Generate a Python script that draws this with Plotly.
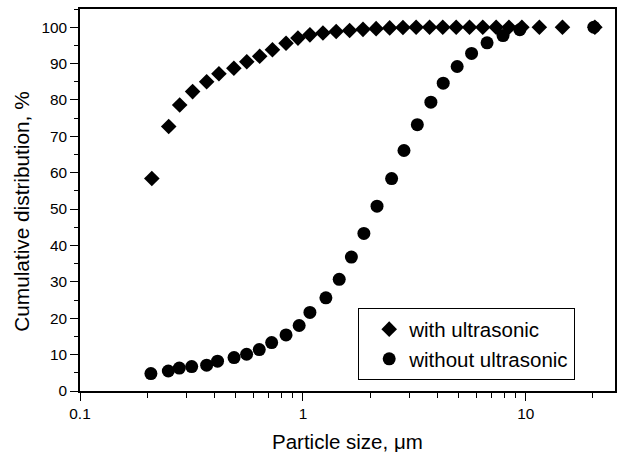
import plotly.graph_objects as go

# with ultrasonic (diamonds)
x_with = [0.21, 0.25, 0.28, 0.32, 0.37, 0.42, 0.49, 0.56, 0.64, 0.73, 0.84, 0.95,
          1.075, 1.23, 1.41, 1.62, 1.86, 2.13, 2.45, 2.81, 3.22, 3.70, 4.24, 4.87,
          5.59, 6.41, 7.36, 8.4, 9.6, 11.5, 14.6, 20.4]
y_with = [58.4, 72.7, 78.6, 82.3, 85.0, 87.2, 88.7, 90.5, 92.0, 93.8, 95.6, 97.0,
          97.9, 98.4, 98.8, 99.1, 99.4, 99.6, 99.8, 99.9, 100, 100, 100, 100,
          100, 100, 100, 100, 100, 100, 100, 100]

# without ultrasonic (circles)
x_without = [0.208, 0.249, 0.279, 0.317, 0.37, 0.414, 0.491, 0.559, 0.637, 0.724, 0.84,
             0.962, 1.075, 1.268, 1.455, 1.65, 1.877, 2.15, 2.5, 2.84, 3.26, 3.75, 4.26,
             4.92, 5.71, 6.70, 7.9, 9.4, 20.2]
y_without = [4.8, 5.5, 6.3, 6.7, 7.1, 8.2, 9.2, 10.1, 11.4, 13.3, 15.4, 18.0, 21.6,
             25.6, 30.7, 36.8, 43.3, 50.8, 58.4, 66.1, 73.2, 79.4, 84.6, 89.2, 92.8,
             95.7, 97.7, 99.3, 100]

x_major = [0.1, 1, 10]
x_major_labels = ["0.1", "1", "10"]
x_minor = [0.2, 0.3, 0.4, 0.5, 0.6, 0.7, 0.8, 0.9, 2, 3, 4, 5, 6, 7, 8, 9, 20]

FONT = "Liberation Sans, Arial, sans-serif"

fig = go.Figure()
fig.add_trace(go.Scatter(x=x_with, y=y_with, mode="markers", name="with ultrasonic",
                         marker=dict(symbol="diamond", size=12, color="black")))
fig.add_trace(go.Scatter(x=x_without, y=y_without, mode="markers", name="without ultrasonic",
                         marker=dict(symbol="circle", size=13, color="black")))

fig.update_layout(
    width=617, height=452,
    margin=dict(l=80, r=2, t=9, b=61, autoexpand=False),
    paper_bgcolor="white", plot_bgcolor="white",
    font=dict(family=FONT, color="black", size=15),
    showlegend=True,
    legend=dict(x=0.52, y=0.028, xanchor="left", yanchor="bottom",
                bgcolor="white", bordercolor="black", borderwidth=1,
                font=dict(size=20.5, family=FONT), indentation=10,
                tracegroupgap=0, itemsizing="trace"),
    annotations=[
        dict(text="Cumulative distribution, %", textangle=-90,
             xref="paper", yref="paper", x=-0.110, y=0.4696,
             xanchor="center", yanchor="middle", showarrow=False,
             font=dict(size=20.8, family=FONT, color="black")),
        dict(text="Particle size, μm",
             xref="paper", yref="paper", x=0.5, y=-0.131,
             xanchor="center", yanchor="middle", showarrow=False,
             font=dict(size=20.5, family=FONT, color="black")),
    ],
)
fig.update_xaxes(
    type="log", range=[-1, 1.4], automargin=False,
    showgrid=False, zeroline=False,
    showline=True, linecolor="black", linewidth=1.5, mirror=True,
    ticks="outside", ticklen=8, tickwidth=1.2, tickcolor="black",
    tickvals=x_major, ticktext=x_major_labels,
    tickfont=dict(size=15.4, family=FONT),
    minor=dict(tickvals=x_minor, ticks="outside", ticklen=5, tickwidth=1.2, tickcolor="black"),
)
fig.update_yaxes(
    range=[0, 105], automargin=False,
    showgrid=False, zeroline=False,
    showline=True, linecolor="black", linewidth=1.5, mirror=True,
    ticks="outside", ticklen=8, tickwidth=1.2, tickcolor="black",
    dtick=10, tick0=0,
    tickfont=dict(size=15.4, family=FONT),
    minor=dict(dtick=5, ticks="outside", ticklen=4, tickwidth=1.2, tickcolor="black"),
)

fig.write_html("out.html")
